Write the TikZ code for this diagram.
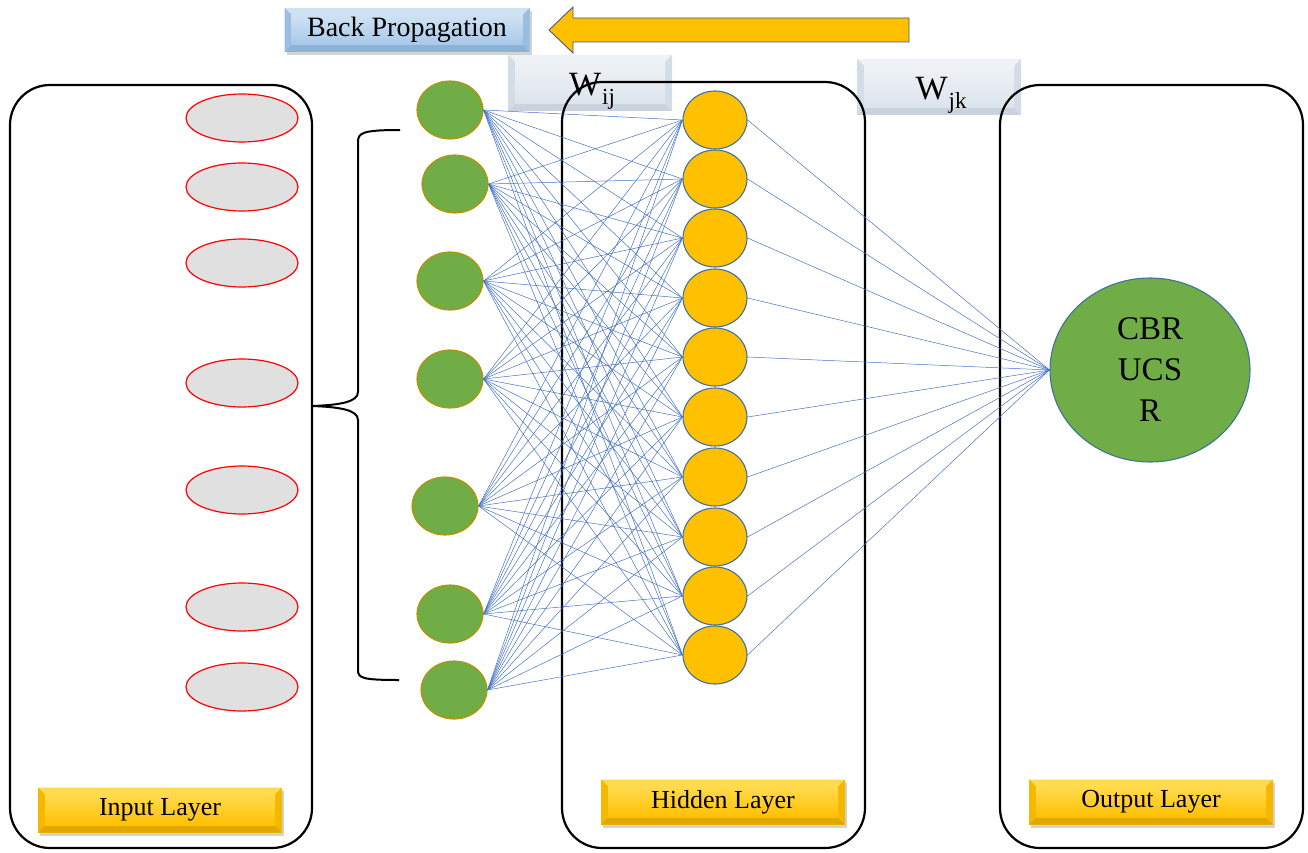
\documentclass[tikz,border=0pt]{standalone}
\usepackage{fontspec}
\setmainfont{Liberation Serif}
\usetikzlibrary{shadows,calc,shapes.geometric}
\definecolor{ngreen}{HTML}{70AD47}
\definecolor{ngreenb}{HTML}{BF9000}
\definecolor{nyellow}{HTML}{FFC000}
\definecolor{nblue}{HTML}{41719C}
\definecolor{conn}{HTML}{4472C4}
\definecolor{bpbase}{HTML}{A7C8E8}
\definecolor{bplight}{HTML}{CFE2F3}
\definecolor{bpdark}{HTML}{8DB1D8}
\definecolor{bpside}{HTML}{9ABDE0}
\definecolor{wbase}{HTML}{DCE4EC}
\definecolor{wlight}{HTML}{EEF2F6}
\definecolor{wdark}{HTML}{CAD3DD}
\definecolor{wside}{HTML}{D4DCE5}
\definecolor{gbase}{HTML}{FFC000}
\definecolor{glight}{HTML}{FFDB4D}
\definecolor{gdark}{HTML}{E0A800}
\definecolor{gside}{HTML}{F5B800}
\definecolor{arrowb}{HTML}{4A5A78}
\tikzset{
  bevel/.style n args={4}{fill=#1, path picture={
    \coordinate (bnw) at (path picture bounding box.north west);
    \coordinate (bne) at (path picture bounding box.north east);
    \coordinate (bsw) at (path picture bounding box.south west);
    \coordinate (bse) at (path picture bounding box.south east);
    \fill[#2] (bnw) -- (bne) -- ([shift={(-7pt,-7pt)}]bne) -- ([shift={(7pt,-7pt)}]bnw) -- cycle;
    \fill[#3] (bsw) -- (bse) -- ([shift={(-7pt,7pt)}]bse) -- ([shift={(7pt,7pt)}]bsw) -- cycle;
    \fill[#4] (bnw) -- ([shift={(7pt,-7pt)}]bnw) -- ([shift={(7pt,7pt)}]bsw) -- (bsw) -- cycle;
    \fill[#4] (bne) -- ([shift={(-7pt,-7pt)}]bne) -- ([shift={(-7pt,7pt)}]bse) -- (bse) -- cycle;
    \shade[top color=#2, bottom color=#1] ([shift={(7pt,-7pt)}]bnw) rectangle ([shift={(-7pt,7pt)}]bse);
  }},
  bpbox/.style={rectangle, inner sep=0pt, minimum width=245pt, minimum height=44pt,
    bevel={bpbase}{bplight}{bpdark}{bpside}, font=\fontsize{28}{30}\selectfont,
    drop shadow={opacity=0.35, shadow xshift=2pt, shadow yshift=-3pt}},
  wbox/.style={rectangle, inner sep=0pt, minimum width=164pt, minimum height=56pt,
    bevel={wbase}{wlight}{wdark}{wside}},
  wtext/.style={font=\fontsize{34}{36}\selectfont, inner sep=0pt},
  labbox/.style={rectangle, inner sep=0pt, minimum width=244pt, minimum height=45pt,
    bevel={gbase}{glight}{gdark}{gside}, font=\fontsize{26}{28}\selectfont,
    drop shadow={opacity=0.35, shadow xshift=2pt, shadow yshift=-3pt}},
  layer/.style={draw=black, line width=2.2pt, rounded corners=40pt},
  inp/.style={ellipse, draw=red, line width=1.2pt, fill=black!12, minimum width=112pt, minimum height=48pt, inner sep=0pt},
  gn/.style={ellipse, draw=ngreenb, line width=1.1pt, fill=ngreen, minimum width=66pt, minimum height=58pt, inner sep=0pt},
  hn/.style={ellipse, draw=nblue, line width=1.1pt, fill=nyellow, minimum width=64pt, minimum height=58pt, inner sep=0pt},
  outn/.style={ellipse, draw=nblue, line width=1.1pt, fill=ngreen, minimum width=200pt, minimum height=184pt, inner sep=0pt,
    align=center, font=\fontsize{33}{41}\selectfont},
  link/.style={draw=conn, line width=0.5pt},
  bracestyle/.style={draw=black, line width=2pt},
  bparrow/.style={fill=nyellow, draw=arrowb, line width=0.9pt, line join=miter}
}
\begin{document}
\begin{tikzpicture}[x=1pt, y=-1pt]
\useasboundingbox (0,0) rectangle (1308,853);
% weight boxes
\node[wbox] (wij) at (590,83) {};
\node[wbox] (wjk) at (939,87) {};
% layer frames
\draw[layer] (10,85) rectangle (312,848);
\draw[layer] (562,82) rectangle (865,848);
\draw[layer] (1000,85) rectangle (1303,848);
\node[wtext] (wijt) at (592,91) {W\kern1pt\raisebox{-9pt}{\fontsize{23}{24}\selectfont ij}};
\node[wtext] (wjkt) at (941,95) {W\kern1pt\raisebox{-9pt}{\fontsize{23}{24}\selectfont jk}};
% back propagation
\node[bpbox] (bp) at (407,30) {Back Propagation};
\coordinate (atip) at (549,30);
\draw[bparrow] (909,18) -- (573,18) -- (573,7) -- (atip) -- (573,53) -- (573,42) -- (909,42) -- cycle;
% input ellipses
\foreach \i/\y in {1/118,2/187,3/263,4/383,5/490,6/607,7/687}
  \node[inp] (in\i) at (242,\y) {};
% brace
\coordinate (btop) at (400,130);
\coordinate (bbot) at (399,680);
\coordinate (btip) at (312,406);
\draw[bracestyle] (btop) .. controls (362,130) and (358,133) .. (358,142) -- (358,392)
  .. controls (358,402) and (340,405) .. (btip)
  .. controls (340,407) and (358,410) .. (358,420) -- (358,670)
  .. controls (358,678) and (362,680) .. (bbot);
% neurons
\foreach \i/\x/\y in {1/450/110,2/455/184,3/450/281,4/450/379,5/445/506,6/450/614,7/454/690}
  \node[gn] (g\i) at (\x,\y) {};
\foreach \j/\y in {1/120,2/179,3/238,4/298,5/357,6/417,7/477,8/537,9/596,10/655}
  \node[hn] (h\j) at (715,\y) {};
\node[outn] (out) at (1150,370) {CBR\\UCS\\R};
% connections
\foreach \i in {1,...,7}
  \foreach \j in {1,...,10}
    \draw[link] (g\i.east) -- (h\j.west);
\foreach \j in {1,...,10}
  \draw[link] (h\j.east) -- (out.west);
% labels
\node[labbox] (inl) at (160,810) {Input Layer};
\node[labbox] (hil) at (723,802) {Hidden Layer};
\node[labbox] (oul) at (1151,802) {Output Layer};
\end{tikzpicture}
\end{document}
